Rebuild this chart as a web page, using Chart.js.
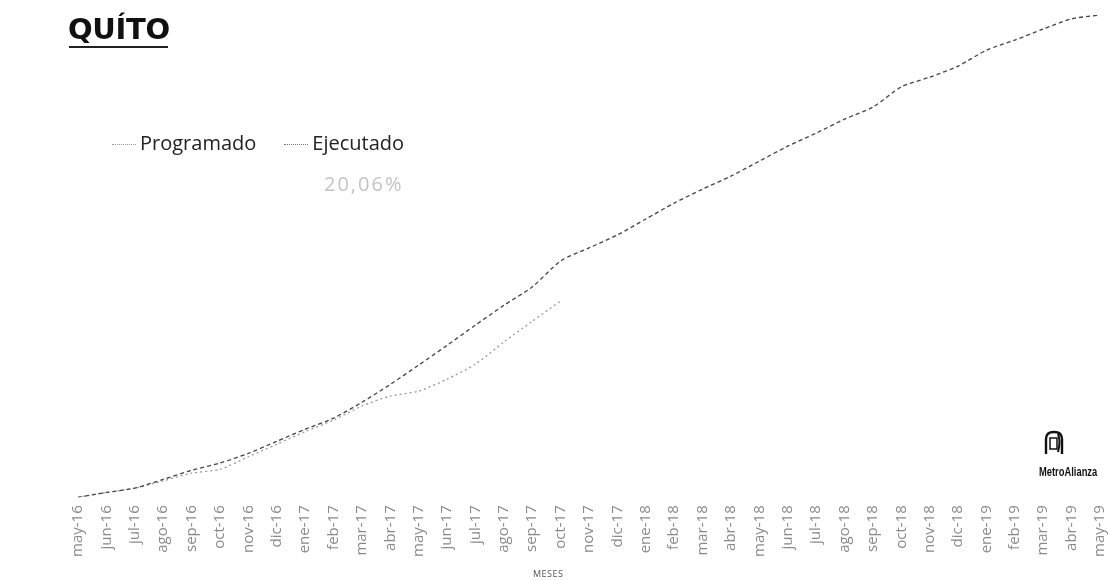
<!DOCTYPE html>
<html>
<head>
<meta charset="utf-8">
<script src="https://cdn.jsdelivr.net/npm/chart.js@4.4.1/dist/chart.umd.min.js"></script>
<style>
html,body{margin:0;padding:0;background:#fff;}
#wrap{position:relative;width:1108px;height:580px;overflow:hidden;background:#fff;}
#c{position:absolute;left:0;top:0;}
#quito{position:absolute;left:68px;top:12px;font-family:"DejaVu Sans";font-weight:bold;font-size:29px;color:#111;letter-spacing:-0.3px;line-height:34px;}
#quitoLine{position:absolute;left:69px;top:46px;width:99px;height:2px;background:#222;}
#legend{position:absolute;left:112px;top:129px;font-family:"Open Sans";font-size:20px;color:#222;white-space:nowrap;}
#legend span.item{margin-right:28px;}
#legend span.mk{display:inline-block;width:24px;height:0;border-top:1px dotted #888;vertical-align:middle;margin-right:4px;}
#pct{position:absolute;left:324px;top:170px;font-family:"Open Sans";font-size:20px;color:#c4c4c4;letter-spacing:2px;}
#metro{position:absolute;left:1039px;top:464px;font-family:"Liberation Sans";font-weight:bold;font-size:13px;color:#111;transform:scaleX(0.72);transform-origin:left top;white-space:nowrap;}
#metroIcon{position:absolute;left:1043px;top:430px;}
#xtitle{position:absolute;left:533px;top:567px;font-family:"Open Sans";font-size:9px;color:#555;letter-spacing:0.5px;}
</style>
</head>
<body>
<div id="wrap">
<canvas id="c" width="1108" height="580"></canvas>
<div id="quito">QUÍTO</div>
<div id="quitoLine"></div>
<div id="legend"></div>
<div id="pct">20,06%</div>
<svg id="metroIcon" width="22" height="26" viewBox="0 0 22 26">
  <path d="M3 24 V9 Q3 2 11 2 Q19 2 19 9 V24" fill="none" stroke="#111" stroke-width="2.4"/>
  <rect x="7" y="8" width="7" height="11" fill="none" stroke="#111" stroke-width="1.5"/>
  <path d="M15 4 Q18 11 15 22" fill="none" stroke="#111" stroke-width="2"/>
</svg>
<div id="metro">MetroAlianza</div>
<div id="xtitle"></div>
</div>
<script>
const months = ["may-16","jun-16","jul-16","ago-16","sep-16","oct-16","nov-16","dic-16",
  "ene-17","feb-17","mar-17","abr-17","may-17","jun-17","jul-17","ago-17","sep-17","oct-17","nov-17","dic-17",
  "ene-18","feb-18","mar-18","abr-18","may-18","jun-18","jul-18","ago-18","sep-18","oct-18","nov-18","dic-18",
  "ene-19","feb-19","mar-19","abr-19","may-19"];

const programado = [0,1.0,1.9,3.7,5.6,7.1,9.1,11.6,14.1,16.4,19.7,23.4,27.4,31.5,35.7,39.8,43.6,49.0,51.7,54.4,
  57.7,61.0,63.9,66.6,69.7,72.8,75.5,78.4,80.9,85.1,87.1,89.4,92.7,94.8,97.1,99.2,100];

const ejecutado = [0,1.0,1.9,3.4,5.0,5.8,8.4,11.0,13.6,16.0,18.9,21.0,22.0,24.5,27.6,32.2,36.5,40.7];

const seriesNames = ["Programado","Ejecutado"];
const xTitle = "MESES";

const colors = ["#444444","#9a9a9a"];

const chart = new Chart(document.getElementById('c'), {
  type: 'line',
  data: {
    labels: months,
    datasets: [
      {label: seriesNames[0], data: programado, borderColor: colors[0], borderWidth: 1.3,
       borderDash: [4,3], pointRadius: 0, tension: 0.25, fill: false},
      {label: seriesNames[1], data: ejecutado, borderColor: colors[1], borderWidth: 1.3,
       borderDash: [2,3], pointRadius: 0, tension: 0.25, fill: false}
    ]
  },
  options: {
    responsive: false,
    animation: false,
    devicePixelRatio: 1,
    layout: {padding: {left: 78, right: 8, top: 15, bottom: 15}},
    plugins: {legend: {display: false}, tooltip: {enabled: false}},
    scales: {
      x: {
        grid: {display: false, drawTicks: false},
        border: {display: false},
        ticks: {minRotation: 90, maxRotation: 90, autoSkip: false, color: '#8a8a8a',
                font: {family: 'Open Sans', size: 15}, padding: 8},
        afterFit(scale){ scale.paddingLeft = 0; scale.paddingRight = 0; }
      },
      y: {display: false, min: 0, max: 100}
    }
  }
});

document.getElementById('xtitle').textContent = xTitle;

// legend built from dataset names
const lg = document.getElementById('legend');
seriesNames.forEach((n, i) => {
  const s = document.createElement('span');
  s.className = 'item';
  s.innerHTML = '<span class="mk" style="border-top-color:' + (i===0?'#999':'#777') + '"></span>' + n;
  lg.appendChild(s);
});
</script>
</body>
</html>
